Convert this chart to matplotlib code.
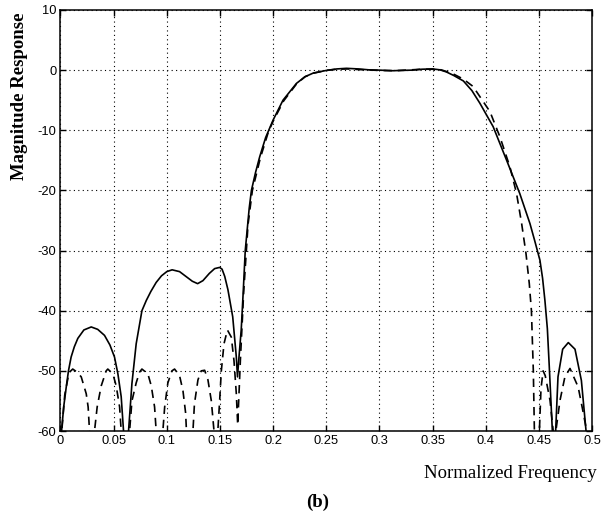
import numpy as np
import matplotlib
matplotlib.use("Agg")
import matplotlib.pyplot as plt

# solid response (normalized frequency, dB)
solid_f = [0.0, 0.001, 0.003, 0.0054, 0.0075, 0.010, 0.013, 0.0163, 0.022, 0.0289,
           0.035, 0.0414, 0.0465, 0.0508, 0.054, 0.0571, 0.0593, 0.0615, 0.064, 0.0672,
           0.0712, 0.0766, 0.0807, 0.085, 0.09, 0.095, 0.1, 0.105, 0.112, 0.118,
           0.124, 0.129, 0.134, 0.14, 0.145, 0.1497, 0.152, 0.1545, 0.1575, 0.162,
           0.1654, 0.1665, 0.168, 0.170, 0.172, 0.1738, 0.1775, 0.1796, 0.1835, 0.1874,
           0.193, 0.2, 0.2093, 0.222, 0.23, 0.2376, 0.25, 0.26, 0.269, 0.28,
           0.29, 0.3, 0.3126, 0.32, 0.331, 0.34, 0.35, 0.357, 0.363, 0.37,
           0.379, 0.387, 0.3945, 0.407, 0.4197, 0.432, 0.4416, 0.446, 0.451, 0.4535,
           0.4557, 0.458, 0.4598, 0.4627, 0.4642, 0.4658, 0.468, 0.4724, 0.4777, 0.484,
           0.490, 0.4944, 0.497]
solid_db = [-75, -60, -56, -52.7, -50, -47.7, -46, -44.6, -43.2, -42.7,
            -43.1, -44.1, -45.7, -47.7, -50.5, -54.3, -60, -75, -60, -52.1,
            -45.5, -40, -38.3, -36.8, -35.3, -34.2, -33.5, -33.2, -33.5, -34.3,
            -35.1, -35.5, -35.0, -33.8, -33.0, -32.8, -33.1, -34.3, -36.5, -41,
            -47.7, -51, -47.5, -43.2, -36.5, -30, -23, -20, -17, -14.4,
            -11.2, -8.3, -5, -2.2, -1.1, -0.5, -0.05, 0.2, 0.3, 0.2,
            0.05, 0, -0.1, -0.05, 0, 0.15, 0.2, 0.05, -0.3, -0.9,
            -1.8, -3.4, -5.5, -9.4, -15, -20.5, -25.5, -28.3, -31.6, -34.6,
            -38.3, -43, -49.3, -60, -75, -60, -51, -46.4, -45.3, -46.4,
            -51.6, -60, -75]

# dashed (equiripple) response
dash_f = [0.0, 0.0012, 0.004, 0.008, 0.0115, 0.0155, 0.0195, 0.0242, 0.026, 0.0273,
          0.0295, 0.032, 0.0345, 0.0383, 0.043, 0.0445, 0.0493, 0.0524, 0.0556, 0.0571,
          0.061, 0.065, 0.0672, 0.0712, 0.0744, 0.0766, 0.0822, 0.0854, 0.0885, 0.090,
          0.093, 0.0963, 0.098, 0.101, 0.1048, 0.1073, 0.112, 0.1152, 0.1177, 0.1185,
          0.1215, 0.1246, 0.126, 0.1293, 0.1324, 0.1356, 0.1387, 0.1419, 0.1444, 0.1462,
          0.148, 0.1497, 0.1513, 0.1538, 0.157, 0.1607, 0.1632, 0.1654, 0.1667, 0.1692,
          0.1723, 0.1764, 0.1805, 0.188, 0.1955, 0.2, 0.21, 0.222, 0.23, 0.238,
          0.25, 0.26, 0.27, 0.28, 0.3, 0.315, 0.33, 0.34, 0.35, 0.358,
          0.368, 0.379, 0.388, 0.3945, 0.404, 0.4134, 0.4228, 0.429, 0.4338, 0.4379,
          0.441, 0.443, 0.4448, 0.4458, 0.448, 0.4505, 0.452, 0.454, 0.456, 0.4605,
          0.4635, 0.4645, 0.466, 0.4699, 0.4745, 0.4793, 0.487, 0.4918, 0.495, 0.497]
dash_db = [-75, -60, -54, -50.3, -49.7, -50.2, -51, -53.8, -56, -60,
           -75, -60, -56, -52.5, -50, -49.7, -50.5, -52.5, -56, -60,
           -75, -60, -55, -52, -50.2, -49.7, -50.5, -52.5, -56, -60,
           -75, -60, -56, -52, -50, -49.7, -50.8, -53.3, -57, -60,
           -75, -60, -55.5, -51.5, -50, -49.9, -51.5, -55, -60, -75,
           -60, -55, -50, -45.5, -43.2, -44.4, -48.3, -53.8, -59, -48.3,
           -37, -25.7, -20, -14.6, -10.3, -8.5, -5.1, -2.3, -1.1, -0.5,
           -0.05, 0.15, 0.2, 0.1, -0.05, -0.1, 0.05, 0.15, 0.15, 0.05,
           -0.5, -1.5, -2.7, -4.4, -6.9, -11.1, -16.1, -20.5, -25.5, -30.5,
           -35.5, -40, -50, -60, -75, -60, -53, -50, -50.8, -54.9,
           -60, -75, -60, -54.9, -51, -49.6, -52.7, -57, -60, -75]

xticks = [0, 0.05, 0.1, 0.15, 0.2, 0.25, 0.3, 0.35, 0.4, 0.45, 0.5]
xticklabels = ["0", "0.05", "0.1", "0.15", "0.2", "0.25", "0.3", "0.35", "0.4", "0.45", "0.5"]
yticks = [-60, -50, -40, -30, -20, -10, 0, 10]

plt.rcParams["axes.unicode_minus"] = False

fig = plt.figure(figsize=(6.08, 5.12), dpi=100)
ax = fig.add_axes([0.0995, 0.1582, 0.8742, 0.8223])

ax.plot(solid_f, solid_db, color="black", lw=1.2)
dl, = ax.plot(dash_f, dash_db, color="black", lw=1.2)
dl.set_dashes((5, 3.5))

ax.set_xlim(0, 0.5)
ax.set_ylim(-60, 10)
ax.set_xticks(xticks)
ax.set_xticklabels(xticklabels)
ax.set_yticks(yticks)
ax.set_yticklabels([str(v) for v in yticks])
ax.grid(True, color="black", linestyle=(0, (1, 3)), linewidth=0.8)
ax.tick_params(direction="in", top=True, right=True, length=4, width=1,
               pad=3, labelsize=9.3)
for lab in ax.get_xticklabels() + ax.get_yticklabels():
    lab.set_family("Liberation Sans")
for sp in ax.spines.values():
    sp.set_linewidth(1.1)

fig.text(19.5 / 608, 1 - 96 / 512, "Magnitude Response", rotation=90,
         ha="center", va="center", family="Liberation Serif", weight="bold", size=13.5)
fig.text(597 / 608, 1 - 474 / 512, "Normalized Frequency", ha="right", va="center",
         family="Liberation Serif", size=13.5)
fig.text(318 / 608, 1 - 502 / 512, "(b)", ha="center", va="center",
         family="Liberation Serif", weight="bold", size=13.5)

fig.savefig("out.png", dpi=100)
